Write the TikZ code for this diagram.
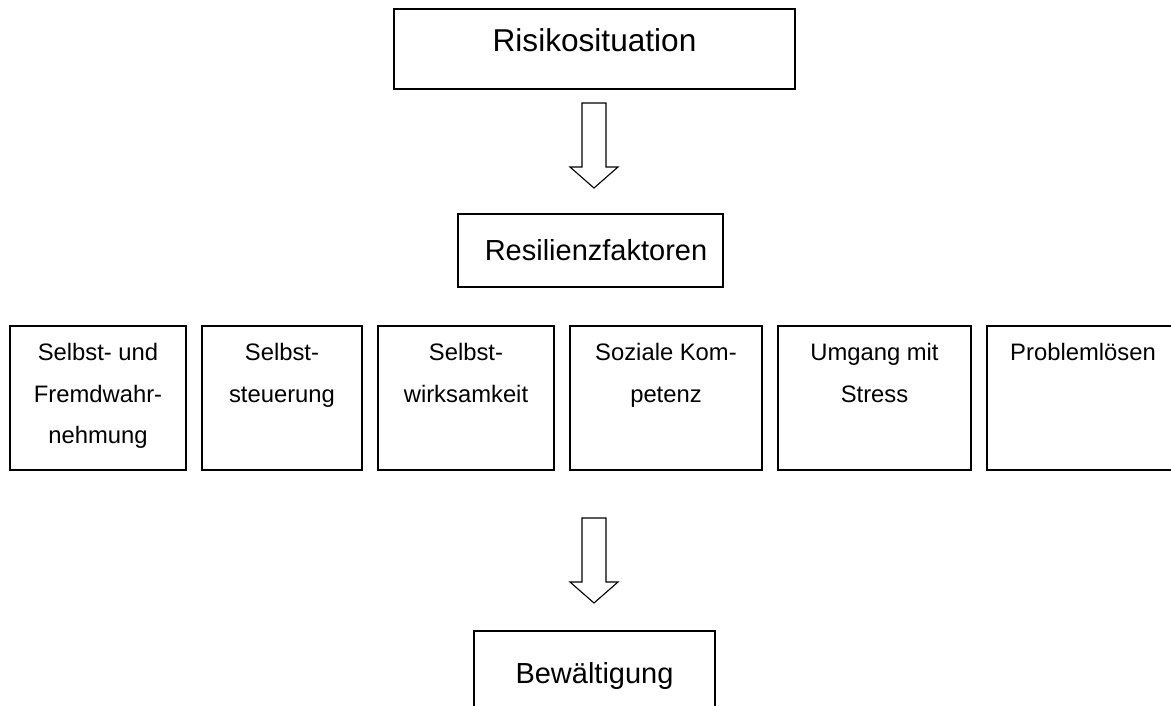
\documentclass[tikz,border=0pt]{standalone}
\usepackage{fontspec}
\setmainfont{Liberation Sans}
\usetikzlibrary{positioning,calc}

\begin{document}
\begin{tikzpicture}[
  x=1pt, y=-1pt,
  box/.style={draw, line width=1.5pt, inner sep=0pt, outer sep=0pt},
  title/.style={box, align=center, font=\fontsize{29pt}{35pt}\selectfont},
  factor/.style={box, font=\fontsize{23.8pt}{41.7pt}\selectfont,
    execute at begin node={\begin{minipage}[t][144pt][t]{#1}\centering\rule{0pt}{34.5pt}},
    execute at end node={\end{minipage}}},
  blockarrow/.style={draw, line width=1.1pt, line join=miter},
  node distance=16pt
]
\useasboundingbox (0,0) rectangle (1171,706);
\clip (0,0) rectangle (1171,706);

\node[title, anchor=north, font=\fontsize{31.6pt}{38pt}\selectfont, text width=401pt, text height=42.3pt, text depth=37.7pt] (risk) at (594.5,9) {Risikosituation};
\node[title, below=125pt of risk, xshift=-4pt, text width=265pt, text height=46.4pt, text depth=26.6pt] (resil) {\hspace*{11pt}Resilienzfaktoren};

\node[factor=176pt, anchor=north west] (selbst) at (10,326) {Selbst- und\\Fremdwahr-\\nehmung};
\node[factor=160pt, right=of selbst] (steuer) {Selbst-\\steuerung};
\node[factor=176pt, right=of steuer] (wirk) {Selbst-\\wirksamkeit};
\node[factor=192pt, right=of wirk] (sozial) {Soziale Kom-\\petenz};
\node[factor=193pt, right=of sozial] (stress) {Umgang mit\\Stress};
% right side of this box lies outside the picture
\node[factor=232pt, right=of stress] (problem) {\hspace*{-40pt}Problemlösen};

\node[title, anchor=north, text width=241pt, text height=52.4pt, text depth=47.6pt] (bew) at (594.5,631) {Bewältigung};

% hollow block arrows
\coordinate (arrA) at ($(risk.south)+(-0.5,14)$);
\coordinate (arrB) at ($(bew.north)+(-0.5,-113)$);
\draw[blockarrow] (arrA) ++(-12,0) -- ++(0,64) -- ++(-12,0) -- ++(24,21) -- ++(24,-21) -- ++(-12,0) -- ++(0,-64) -- cycle;
\draw[blockarrow] (arrB) ++(-12,0) -- ++(0,64) -- ++(-12,0) -- ++(24,21) -- ++(24,-21) -- ++(-12,0) -- ++(0,-64) -- cycle;
\end{tikzpicture}
\end{document}
